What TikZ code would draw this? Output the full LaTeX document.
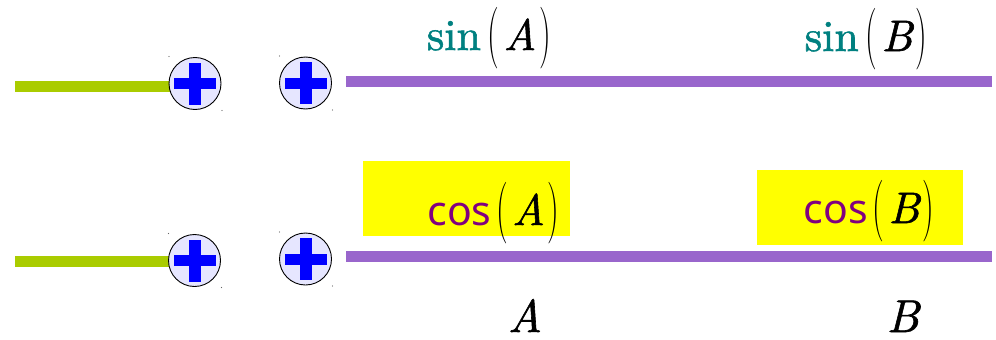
\documentclass[tikz,border=0pt]{standalone}
\usepackage{fontspec}
\newfontfamily\cosfont{Noto Sans}
\newfontfamily\txtfont{lmroman10-regular}[Extension=.otf, FakeBold=1.3]
\newfontfamily\itfont{lmroman10-italic}[Extension=.otf, FakeBold=1.3]
\usepackage{graphicx}
\definecolor{lgreen}{RGB}{170,204,0}
\definecolor{lpurple}{RGB}{153,102,204}
\definecolor{circfill}{RGB}{230,230,255}
\definecolor{sincol}{RGB}{0,128,128}
\definecolor{coscol}{RGB}{128,0,128}
\definecolor{ylw}{RGB}{255,255,0}
\newcommand\tallp[1]{\textcolor{black}{\raisebox{-3pt}{\scalebox{0.75}[1.4]{\normalfont\upshape #1}}}}
\newcommand\vv[1]{\textcolor{black}{\itfont #1}}
\begin{document}
\begin{tikzpicture}[x=1pt,y=-1pt,
  greenline/.style={lgreen, line width=11pt},
  purpleline/.style={lpurple, line width=11pt},
  plusc/.style={circle, draw=black, line width=0.9pt, fill=circfill, minimum size=52pt, inner sep=0pt},
  sinlab/.style={anchor=base, text=sincol, inner sep=0pt, font=\fontsize{44}{50}\selectfont\txtfont},
  coslab/.style={anchor=base, text=coscol, inner sep=0pt, font=\fontsize{44}{50}\selectfont},
  ylbox/.style={fill=ylw, inner sep=0pt},
  varlab/.style={anchor=base, inner sep=0pt, font=\fontsize{46}{50}\selectfont\itfont}
]
\useasboundingbox (0,0) rectangle (996,340);
% positions
\coordinate (p1) at (195,83.5);
\coordinate (p2) at (305.5,83);
\coordinate (p3) at (194.5,260.5);
\coordinate (p4) at (305.5,259);
\coordinate (g1) at (15,86);
\coordinate (g2) at (15,261.5);
\coordinate (ps1) at (346,81);
\coordinate (pe1) at (992,81);
\coordinate (ps2) at (346,256.5);
\coordinate (pe2) at (992,256.5);
% lines
\draw[greenline] (g1) -- (g1 -| p1);
\draw[greenline] (g2) -- (g2 -| p3);
\draw[purpleline] (ps1) -- (pe1);
\draw[purpleline] (ps2) -- (pe2);
% circles with plus
\foreach \n/\p in {c1/p1,c2/p2,c3/p3,c4/p4}{
  \node[plusc] (\n) at (\p) {};
  \fill[blue] ([xshift=-21pt,yshift=-5.5pt]\n.center) rectangle ([xshift=21pt,yshift=5.5pt]\n.center);
  \fill[blue] ([xshift=-6pt,yshift=-21pt]\n.center) rectangle ([xshift=6pt,yshift=21pt]\n.center);
  \fill[black!60] ([xshift=-26pt,yshift=27pt]\n.center) circle (0.7pt);
  \fill[black!60] ([xshift=27pt,yshift=-27pt]\n.center) circle (0.7pt);
}
% yellow boxes
\node[ylbox, minimum width=207pt, minimum height=75pt] (boxA) at (466.5,198.5) {};
\node[ylbox, minimum width=206pt, minimum height=75pt] (boxB) at (860,207.5) {};
% labels
\node[sinlab] (sinA) at (489,50) {sin\hspace{7pt}\tallp{(}\hspace{4pt}\vv{A}\hspace{3pt}\tallp{)}};
\node[sinlab] (sinB) at (866,51) {sin\hspace{7pt}\tallp{(}\hspace{4pt}\vv{B}\hspace{3pt}\tallp{)}};
\node[coslab] (cosA) at (493.5,225) {{\cosfont\fontsize{41}{50}\selectfont cos}\hspace{5pt}\tallp{(}\hspace{4pt}\vv{A}\hspace{3pt}\tallp{)}};
\node[coslab] (cosB) at (869,223) {{\cosfont\fontsize{41}{50}\selectfont cos}\hspace{5pt}\tallp{(}\hspace{4pt}\vv{B}\hspace{3pt}\tallp{)}};
\node[varlab] (vA) at (525,332) {A};
\node[varlab] (vB) at (903,332) {B};
\end{tikzpicture}
\end{document}
